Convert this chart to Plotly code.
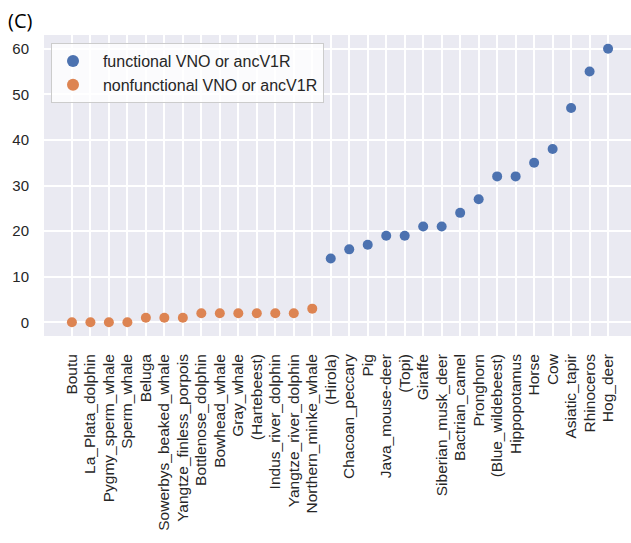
import plotly.graph_objects as go

# Species ordered by ancV1R count
nonfunc_species = [
    "Boutu", "La_Plata_dolphin", "Pygmy_sperm_whale", "Sperm_whale", "Beluga",
    "Sowerbys_beaked_whale", "Yangtze_finless_porpois", "Bottlenose_dolphin",
    "Bowhead_whale", "Gray_whale", "(Hartebeest)", "Indus_river_dolphin",
    "Yangtze_river_dolphin", "Northern_minke_whale",
]
nonfunc_counts = [0, 0, 0, 0, 1, 1, 1, 2, 2, 2, 2, 2, 2, 3]

func_species = [
    "(Hirola)", "Chacoan_peccary", "Pig", "Java_mouse-deer", "(Topi)", "Giraffe",
    "Siberian_musk_deer", "Bactrian_camel", "Pronghorn", "(Blue_wildebeest)",
    "Hippopotamus", "Horse", "Cow", "Asiatic_tapir", "Rhinoceros", "Hog_deer",
]
func_counts = [14, 16, 17, 19, 19, 21, 21, 24, 27, 32, 32, 35, 38, 47, 55, 60]

y_ticks = [0, 10, 20, 30, 40, 50, 60]

all_species = nonfunc_species + func_species

W, H = 631, 543
L, R, T, B = 44, 0, 35, 207
plot_w = W - L - R
plot_h = H - T - B

NBSP = "\u00a0\u00a0"

fig = go.Figure()
fig.add_trace(go.Scatter(
    x=func_species, y=func_counts, mode="markers",
    name=NBSP + "functional VNO or ancV1R",
    marker=dict(color="#4C72B0", size=10, line=dict(width=0)),
))
fig.add_trace(go.Scatter(
    x=nonfunc_species, y=nonfunc_counts, mode="markers",
    name=NBSP + "nonfunctional VNO or ancV1R",
    marker=dict(color="#DD8452", size=10, line=dict(width=0)),
))

font_family = "Liberation Sans, Arial, sans-serif"
fig.update_layout(
    template="none",
    width=W, height=H,
    margin=dict(l=L, r=R, t=T, b=B, pad=0),
    paper_bgcolor="white",
    plot_bgcolor="#EAEAF2",
    font=dict(family=font_family, size=15, color="#262626"),
    showlegend=True,
    legend=dict(
        x=7 / plot_w, y=1 - 8 / plot_h, xanchor="left", yanchor="top",
        bgcolor="rgba(255,255,255,0.8)", bordercolor="#CCCCCC", borderwidth=1,
        font=dict(size=16, color="#262626"),
        itemsizing="constant", itemwidth=32, tracegroupgap=0,
    ),
    xaxis=dict(
        type="category", categoryorder="array", categoryarray=all_species,
        tickmode="array", tickvals=all_species, ticktext=all_species,
        range=[-1.51, 30.24], autorange=False, automargin=False, tickangle=-90,
        showgrid=True, gridcolor="white", gridwidth=1.5,
        zeroline=False, showline=False, ticks="", ticklabelstandoff=14,
        tickfont=dict(size=15.5, color="#262626"),
    ),
    yaxis=dict(
        range=[-3, 63], autorange=False, automargin=False, tickvals=y_ticks,
        showgrid=True, gridcolor="white", gridwidth=1.5,
        zeroline=False, showline=False, ticks="", ticklabelstandoff=14,
        tickfont=dict(size=15, color="#262626"),
    ),
    annotations=[dict(
        text="(C)", xref="paper", yref="paper", x=-L / plot_w + 6 / plot_w,
        y=1 + (T - 5) / plot_h, xanchor="left", yanchor="top", showarrow=False,
        font=dict(size=20, color="black", family="Open Sans, sans-serif"),
    )],
)

fig.write_html("out.html")
